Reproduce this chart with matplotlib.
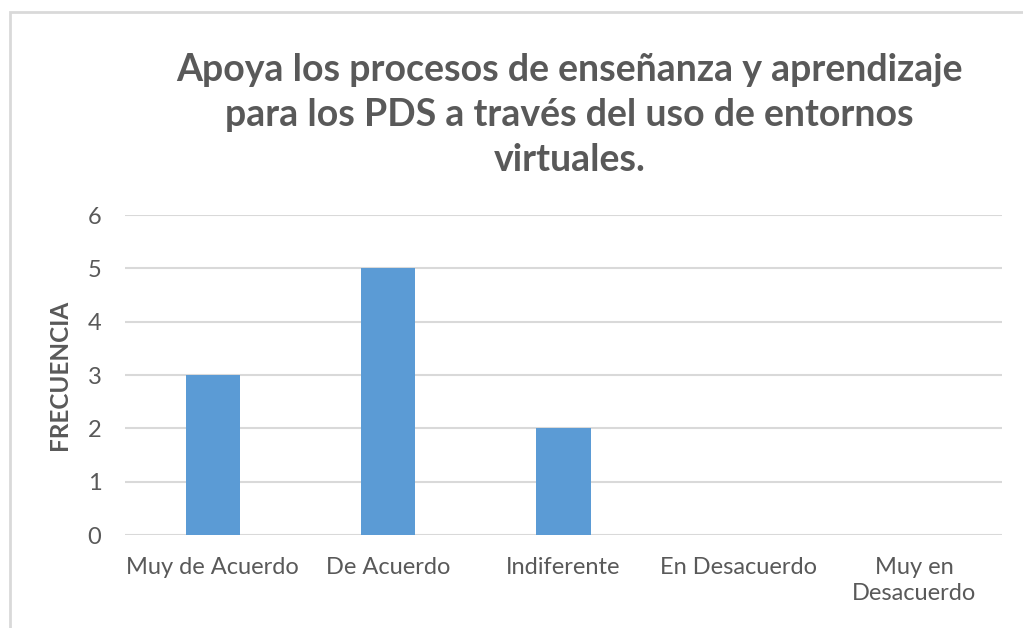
import matplotlib.pyplot as plt
import numpy as np
from matplotlib.patches import Rectangle

categories = ["Muy de Acuerdo", "De Acuerdo", "Indiferente", "En Desacuerdo", "Muy en\nDesacuerdo"]
frecuencia = [3, 5, 2, 0, 0]
y_ticks = [0, 1, 2, 3, 4, 5, 6]

plt.rcParams['font.family'] = ['Lato', 'DejaVu Sans']
gray = "#595959"

fig = plt.figure(figsize=(10.23, 6.28), dpi=100)
ax = fig.add_axes([0.1222, 0.148, 0.8573, 0.5096])

# chart area border
fig.patches.append(Rectangle((10 / 1023, -0.1), 1.2, 0.981 + 0.1, transform=fig.transFigure,
                             fill=False, edgecolor="#d9d9d9", linewidth=2))

x = np.arange(len(categories))
ax.bar(x, frecuencia, width=0.31, color="#5b9bd5", zorder=3)

ax.set_xlim(-0.5, len(categories) - 0.5)
ax.set_ylim(0, 6)
ax.set_yticks(y_ticks)
ax.set_xticks(x)
ax.set_xticklabels(categories, fontsize=17, color=gray, linespacing=1.25, va="top")
ax.tick_params(axis="y", length=0, pad=17, labelsize=17, labelcolor=gray)
ax.tick_params(axis="x", length=0, pad=16)
ax.grid(axis="y", color="#d9d9d9", linewidth=1.5, zorder=0)
for s in ax.spines.values():
    s.set_visible(False)

ax.set_ylabel("FRECUENCIA", fontsize=17.5, fontweight="bold", color=gray, labelpad=12)

fig.text(0.557, 0.817, "Apoya los procesos de enseñanza y aprendizaje\npara los PDS a través del uso de entornos\nvirtuales.",
         ha="center", va="center", fontsize=27, fontweight="bold", color=gray, linespacing=1.4)

fig.savefig("out.png", dpi=100)
